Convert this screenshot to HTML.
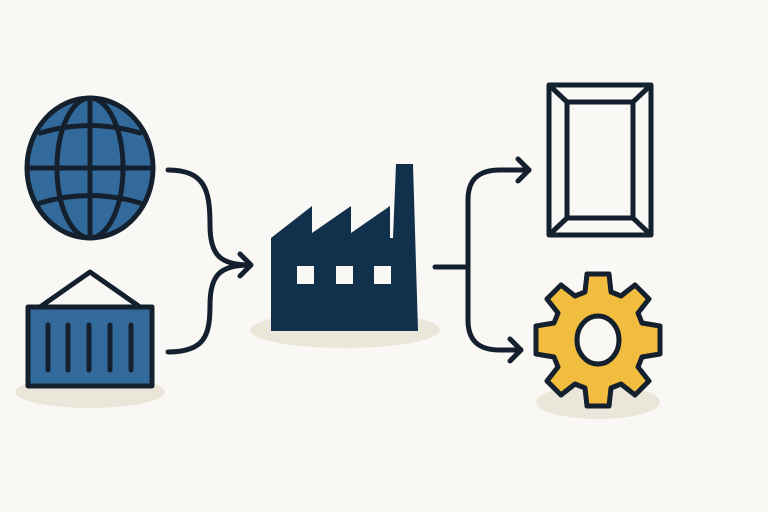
<!DOCTYPE html>
<html><head><style>html,body{margin:0;padding:0;background:#f9f8f4;}svg{display:block}</style></head><body>
<svg width="768" height="512" viewBox="0 0 768 512" xmlns="http://www.w3.org/2000/svg">
<rect width="768" height="512" fill="#f9f8f4"/>
<ellipse cx="90" cy="392" rx="75" ry="16" fill="#ebe6da"/>
<ellipse cx="345" cy="330" rx="95" ry="18" fill="#ebe6da"/>
<ellipse cx="598" cy="402" rx="62" ry="17" fill="#ebe6da"/>
<g stroke="#14202e" stroke-width="5" fill="none" stroke-linecap="round">
<ellipse cx="90" cy="168" rx="63" ry="70" fill="#336a9c"/>
<ellipse cx="90" cy="168" rx="33" ry="70"/>
<line x1="90" y1="98" x2="90" y2="238"/>
<line x1="27" y1="168" x2="153" y2="168"/>
<path d="M40 133 Q90 118 140 133"/>
<path d="M40 203 Q90 188 140 203"/>
</g>
<g stroke="#14202e" stroke-width="5" stroke-linejoin="round" stroke-linecap="round">
<polyline points="40,307 90,272 140,307" fill="none"/>
<rect x="28" y="307" width="124" height="79" fill="#336a9c"/>
<line x1="48" y1="325" x2="48" y2="370"/>
<line x1="68" y1="325" x2="68" y2="370"/>
<line x1="89" y1="325" x2="89" y2="370"/>
<line x1="110" y1="325" x2="110" y2="370"/>
<line x1="131" y1="325" x2="131" y2="370"/>
</g>
<g stroke="#14202e" stroke-width="5" fill="none" stroke-linecap="round" stroke-linejoin="round">
<path d="M168 170 C205 170 210 190 210 225 C210 255 220 265 250 265"/>
<path d="M168 352 C205 352 210 335 210 305 C210 275 220 265 250 265"/>
<polyline points="240,254 251,265 240,276"/>
</g>
<path d="M271 238 L312 206 L312 233 L351 206 L351 233 L390 206 L390 238 L393 238 L396 164 L413 164 L418 331 L271 331 Z" fill="#10304c"/>
<g fill="#f9f8f4">
<rect x="297" y="266" width="17" height="18"/>
<rect x="336" y="266" width="17" height="18"/>
<rect x="374" y="266" width="17" height="18"/>
</g>
<g stroke="#14202e" stroke-width="5" fill="none" stroke-linecap="round" stroke-linejoin="round">
<line x1="435" y1="267" x2="468" y2="267"/>
<path d="M529 170 L500 170 C478 170 468 180 468 200 L468 320 C468 340 478 350 500 350 L520 350"/>
<polyline points="518,159 529,170 518,181"/>
<polyline points="510,339 521,350 510,361"/>
</g>
<g stroke="#14202e" stroke-width="5" fill="#f9f8f4" stroke-linejoin="round">
<rect x="549" y="85" width="102" height="150"/>
<rect x="567" y="102" width="66" height="116"/>
<line x1="549" y1="85" x2="567" y2="102"/>
<line x1="651" y1="85" x2="633" y2="102"/>
<line x1="549" y1="235" x2="567" y2="218"/>
<line x1="651" y1="235" x2="633" y2="218"/>
</g>
<g transform="translate(598,340)" stroke="#14202e" stroke-width="5" stroke-linejoin="round">
<path fill="#f0bd3e" d="M-11,-66 L11,-66 L13,-48 L23,-44 L37,-55 L51,-41 L40,-27 L44,-17 L62,-14 L62,14 L44,17 L40,27 L51,41 L37,55 L23,44 L13,48 L11,66 L-11,66 L-13,48 L-23,44 L-37,55 L-51,41 L-40,27 L-44,17 L-62,14 L-62,-14 L-44,-17 L-40,-27 L-51,-41 L-37,-55 L-23,-44 L-13,-48 Z"/>
<ellipse cx="0" cy="0" rx="21" ry="24" fill="#f9f8f4"/>
</g>
</svg>
</body></html>
